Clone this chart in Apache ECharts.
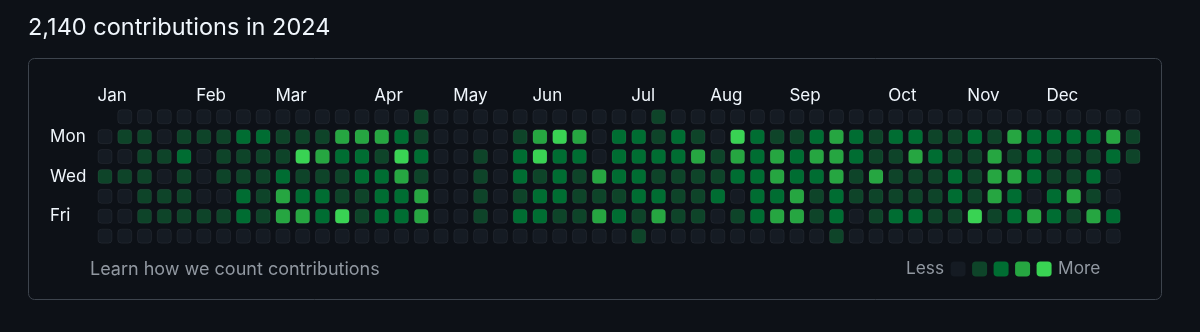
<!DOCTYPE html>
<html><head><meta charset="utf-8">
<script src="https://cdn.jsdelivr.net/npm/echarts@6/dist/echarts.min.js"></script>
<style>html,body{margin:0;padding:0;background:#0d1117;}#c{width:1200px;height:332px;}</style>
</head><body><div id="c"></div>
<script>
// ---- data ----
const titleText = '2,140 contributions in 2024';
const footnoteText = 'Learn how we count contributions';
const weekdays = ['Sun', 'Mon', 'Tue', 'Wed', 'Thu', 'Fri', 'Sat'];
const weekdayLabels = ['Mon', 'Wed', 'Fri'];
const monthLabels = ['Jan', 'Feb', 'Mar', 'Apr', 'May', 'Jun', 'Jul', 'Aug', 'Sep', 'Oct', 'Nov', 'Dec'];
const monthStartWeek = [0, 5, 9, 14, 18, 22, 27, 31, 35, 40, 44, 48];
const levels = [0, 1, 2, 3, 4];
// contribution level per week column (0..52), one array per weekday; null = outside 2024
const sunLevels = [null,0,0,0,0,0,0,0,0,0,0,0,0,0,0,0,1,0,0,0,0,0,0,0,0,0,0,0,1,0,0,0,0,0,0,0,0,0,0,0,0,0,0,0,0,0,0,0,0,0,0,0,0];
const monLevels = [0,1,1,0,1,1,1,2,2,1,1,1,3,3,3,2,1,0,0,0,0,1,3,4,3,0,2,2,1,2,1,0,4,2,1,1,2,3,2,1,2,2,1,1,2,1,3,2,2,2,2,3,1];
const tueLevels = [0,0,1,1,2,0,1,1,1,1,4,3,2,2,1,4,2,0,0,1,0,2,4,2,2,0,2,2,2,2,3,1,3,2,3,2,3,3,2,1,1,3,2,1,1,3,1,2,1,1,1,2,1];
const wedLevels = [1,1,1,0,1,0,1,1,1,2,1,1,1,2,2,3,1,0,0,1,0,2,1,2,1,3,2,2,1,1,1,1,2,2,3,2,2,3,1,3,1,1,1,2,1,3,3,2,1,1,2,0,null];
const thuLevels = [0,0,1,1,1,0,0,2,1,3,2,2,1,1,2,2,3,0,0,1,0,1,2,2,1,1,1,2,2,1,1,2,0,2,2,3,1,2,1,1,1,1,1,2,1,3,2,0,2,3,1,0,null];
const friLevels = [0,0,1,1,1,1,1,2,1,3,3,2,4,1,2,2,3,0,0,1,0,2,2,1,1,3,2,1,3,1,1,0,1,2,3,3,1,2,0,1,2,2,1,1,4,1,2,3,2,1,3,2,null];
const satLevels = [0,0,0,0,0,0,0,0,0,0,0,0,0,0,0,0,0,0,0,0,0,0,0,0,0,0,0,1,0,0,0,0,0,0,0,0,0,1,0,0,0,0,0,0,0,0,0,0,0,0,0,0,null];
const legendLow = 'Less';
const legendHigh = 'More';

// ---- styling ----
const levelColors = ['#151b23', '#0e4429', '#006d32', '#26a641', '#39d353'];
const FONT = 'Inter, "Noto Sans", sans-serif';
const rows = [sunLevels, monLevels, tueLevels, wedLevels, thuLevels, friLevels, satLevels];
const cells = [];
rows.forEach((row, r) => row.forEach((v, c) => { if (v !== null) cells.push([c, r, v]); }));
const monthTicks = monthStartWeek.map(w => w - 0.38);
const monthByTick = {};
monthTicks.forEach((t, i) => { monthByTick[t.toFixed(2)] = monthLabels[i]; });

const chart = echarts.init(document.getElementById('c'), null, {renderer: 'canvas'});
chart.setOption({
  backgroundColor: '#0d1117',
  animation: false,
  title: [
    {text: titleText, left: 28, top: 16, padding: 0, textStyle: {color: '#f0f6fc', fontSize: 23.5, fontWeight: 'normal', fontFamily: FONT}},
    {text: footnoteText, left: 90, top: 260.5, padding: 0, textStyle: {color: '#9198a1', fontSize: 18, fontWeight: 'normal', fontFamily: FONT}}
  ],
  graphic: [{
    type: 'rect', z: -1, silent: true,
    shape: {x: 28.5, y: 58.5, width: 1133, height: 241, r: 6},
    style: {fill: '#0d1117', stroke: '#3d444d', lineWidth: 1}
  }],
  grid: {left: 95.1, top: 106.8, width: 1047.8, height: 139.3, containLabel: false},
  xAxis: {
    type: 'value', position: 'top', min: -0.5, max: 52.5,
    axisLine: {show: false}, axisTick: {show: false}, splitLine: {show: false},
    axisLabel: {
      customValues: monthTicks, align: 'left', margin: 2,
      color: '#f0f6fc', fontSize: 17, fontFamily: FONT,
      formatter: v => monthByTick[v.toFixed(2)] || ''
    }
  },
  yAxis: {
    type: 'category', data: weekdays, inverse: true,
    axisLine: {show: false}, axisTick: {show: false}, splitLine: {show: false},
    axisLabel: {
      interval: 0, align: 'left', margin: 45,
      color: '#f0f6fc', fontSize: 17, fontFamily: FONT,
      formatter: v => weekdayLabels.includes(v) ? v : ''
    }
  },
  visualMap: {
    type: 'piecewise', seriesIndex: 0, dimension: 2,
    pieces: levels.map((l, i) => ({value: l, color: levelColors[i]})),
    orient: 'horizontal', left: 906, top: 260.5, padding: 0,
    itemWidth: 15, itemHeight: 15, itemGap: 6.5, itemSymbol: 'roundRect',
    text: [legendHigh, legendLow], textGap: 8, showLabel: false,
    selectedMode: false, hoverLink: false,
    textStyle: {color: '#9198a1', fontSize: 17.3, fontFamily: FONT}
  },
  series: [{
    type: 'scatter', data: cells, symbol: 'roundRect', symbolSize: 14,
    itemStyle: {borderColor: 'rgba(240,246,252,0.06)', borderWidth: 1, opacity: 1},
    emphasis: {disabled: true}
  }]
});
</script></body></html>
